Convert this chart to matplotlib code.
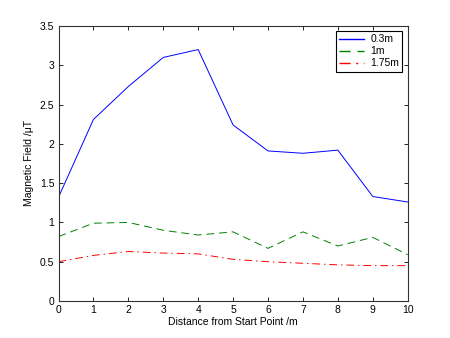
import matplotlib
matplotlib.use("Agg")
import matplotlib.pyplot as plt

distance = [0, 1, 2, 3, 4, 5, 6, 7, 8, 9, 10]
field_03 = [1.32, 2.31, 2.73, 3.10, 3.20, 2.24, 1.91, 1.88, 1.92, 1.33, 1.26]
field_1 = [0.82, 0.99, 1.00, 0.90, 0.84, 0.88, 0.67, 0.88, 0.70, 0.81, 0.59]
field_175 = [0.50, 0.58, 0.63, 0.61, 0.60, 0.53, 0.50, 0.48, 0.46, 0.45, 0.45]
labels = ["0.3m", "1m", "1.75m"]

plt.rcParams['font.family'] = ['Liberation Sans', 'DejaVu Sans']
plt.rcParams['font.size'] = 7.5

fig = plt.figure(figsize=(4.5, 3.38), dpi=100)
ax = fig.add_axes([58.5 / 450, 1 - 301 / 338, (407.7 - 58.5) / 450, (301 - 26) / 338])

ax.plot(distance, field_03, color='#0000ff', lw=0.7, ls='-', label=labels[0])
ax.plot(distance, field_1, color='#008000', lw=0.7, ls=(0, (8, 5)), label=labels[1])
ax.plot(distance, field_175, color='#ff0000', lw=0.7, ls=(0, (8, 4, 1.5, 4)), label=labels[2])

ax.set_xlim(0, 10)
ax.set_ylim(0, 3.5)
ax.set_xticks(range(0, 11))
ax.set_yticks([0, 0.5, 1, 1.5, 2, 2.5, 3, 3.5])
ax.set_yticklabels(["0", "0.5", "1", "1.5", "2", "2.5", "3", "3.5"])
ax.tick_params(direction='in', top=True, right=True, length=3, width=0.6, pad=3)
for s in ax.spines.values():
    s.set_linewidth(0.8)
    s.set_color('#333333')

ax.set_xlabel("Distance from Start Point /m", labelpad=1)
ax.set_ylabel("Magnetic Field /\u03bcT", labelpad=4)

leg = ax.legend(loc='upper right', fancybox=False, framealpha=1, edgecolor='black',
                borderaxespad=0.5, handlelength=2.4, handletextpad=0.6,
                labelspacing=0.2, borderpad=0.3)
leg.get_frame().set_linewidth(0.8)
for h in leg.get_lines():
    h.set_linewidth(1.0)

fig.savefig("out.png", dpi=100)
